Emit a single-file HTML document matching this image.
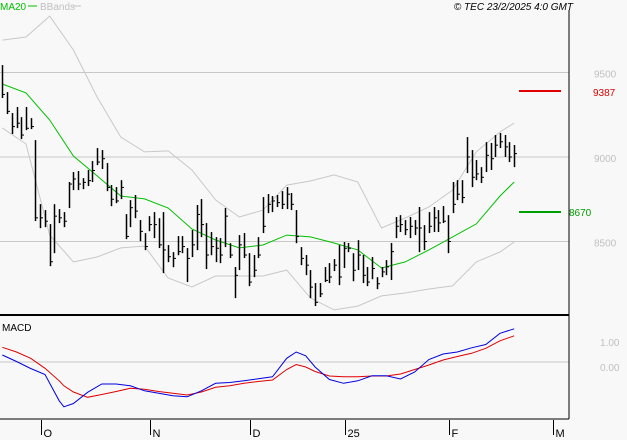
<!DOCTYPE html>
<html><head><meta charset="utf-8"><style>
html,body{margin:0;padding:0;background:#f8f8f8;}
svg{display:block;font-family:"Liberation Sans",sans-serif;}
</style></head><body>
<svg id="chart" width="627" height="440" viewBox="0 0 627 440" xmlns="http://www.w3.org/2000/svg">
<rect x="0" y="0" width="627" height="440" fill="#f8f8f8"/>
<g>
<text x="0" y="10" font-size="10" fill="#00c000">MA20</text>
<line x1="28" y1="6" x2="37" y2="6" stroke="#00c000"/>
<text x="40" y="10" font-size="10" fill="#c0c0c0">BBands</text>
<line x1="73" y1="6" x2="81" y2="6" stroke="#c0c0c0"/>
</g>
<text x="573" y="10" font-size="10" font-style="italic" text-anchor="end" fill="#000">© TEC 23/2/2025 4:0 GMT</text>
<g id="grid"></g>
<g id="bands"></g>
<g id="bars"></g>
<g id="macd"></g>
<line x1="569" y1="10" x2="569" y2="419" stroke="#000"/>
<line x1="0" y1="315" x2="569" y2="315" stroke="#000" stroke-width="2"/>
<line x1="0" y1="419" x2="569" y2="419" stroke="#000"/>
<text x="2" y="331" font-size="10" fill="#000">MACD</text>
<line x1="519" y1="91" x2="561" y2="91" stroke="#e00000" stroke-width="2"/>
<text x="593" y="96" font-size="10" fill="#e00000">9387</text>
<line x1="519" y1="212" x2="561" y2="212" stroke="#00a000" stroke-width="2"/>
<text x="569" y="216" font-size="10" fill="#00a000">8670</text>
<g id="xaxis"></g>
</svg>
<script>
const highs=[9544,9384,9260,9296,9236,9296,9230,9100,8721,8686,8603,8721,8692,8674,8852,8911,8917,8875,8923,8976,9053,9041,8964,8834,8822,8863,8662,8745,8775,8627,8550,8650,8674,8638,8674,8479,8437,8532,8532,8461,8568,8716,8751,8609,8556,8526,8520,8698,8490,8349,8538,8550,8431,8420,8526,8763,8781,8769,8775,8798,8822,8787,8686,8467,8420,8331,8254,8254,8349,8372,8396,8479,8497,8491,8431,8508,8420,8349,8408,8289,8349,8390,8491,8645,8656,8627,8645,8627,8704,8597,8674,8704,8686,8710,8656,8852,8863,8863,9118,9041,8982,8940,9088,9083,9130,9142,9130,9088,9071];
const lows=[9349,9254,9136,9171,9106,9159,9165,8621,8579,8585,8354,8431,8609,8585,8698,8804,8804,8810,8828,8852,8952,8929,8798,8709,8727,8751,8514,8585,8638,8502,8449,8561,8520,8461,8313,8378,8348,8419,8431,8260,8408,8449,8526,8337,8419,8378,8372,8467,8402,8165,8331,8402,8236,8289,8402,8550,8668,8674,8704,8692,8692,8686,8490,8360,8301,8165,8118,8171,8260,8254,8325,8242,8343,8437,8265,8331,8254,8236,8277,8218,8289,8301,8272,8520,8556,8538,8520,8538,8437,8449,8550,8556,8556,8609,8431,8668,8745,8727,8905,8822,8863,8846,8911,8923,9000,9053,9000,8970,8940];
const closes=[9370,9270,9180,9200,9130,9170,9180,8640,8640,8620,8380,8650,8640,8620,8840,8870,8840,8850,8860,8920,8970,8990,8820,8750,8740,8820,8530,8700,8680,8560,8470,8600,8600,8480,8450,8410,8400,8440,8470,8400,8480,8660,8600,8420,8470,8460,8420,8650,8420,8300,8480,8420,8260,8330,8420,8590,8720,8740,8730,8720,8780,8720,8530,8400,8360,8230,8140,8190,8270,8290,8360,8290,8460,8460,8330,8420,8300,8260,8340,8250,8320,8350,8440,8590,8600,8570,8590,8580,8580,8500,8590,8640,8610,8620,8500,8720,8780,8760,9000,8880,8900,8880,9010,8990,9070,9090,9060,9000,9020];
const sampleIdx=[0,5,10,15,20,25,30,35,40,45,50,55,60,65,70,75,80,85,90,95,100,105,108];
const ma20=[9432,9379,9219,9006,8888,8769,8752,8698,8574,8509,8462,8479,8538,8527,8491,8450,8343,8379,8450,8527,8604,8769,8852];
const bbUpper=[9692,9710,9834,9633,9355,9118,9030,9036,8923,8746,8645,8686,8834,8858,8894,8852,8580,8639,8704,8805,9030,9148,9201];
const bbLower=[9172,9077,8538,8379,8408,8462,8473,8284,8231,8296,8296,8296,8331,8166,8095,8118,8178,8195,8219,8237,8379,8438,8497];
const macdIdx=[0,3,6,9,12,13,15,18,21,24,27,30,33,36,39,42,45,48,51,54,57,60,62,64,66,69,72,75,78,81,84,87,90,93,96,99,102,105,108];
const macdLine=[0.28,0.02,-0.26,-0.50,-1.55,-1.79,-1.66,-1.21,-0.88,-0.88,-0.95,-1.15,-1.25,-1.35,-1.39,-1.15,-0.85,-0.82,-0.75,-0.67,-0.59,0.15,0.40,0.25,-0.20,-0.70,-0.85,-0.75,-0.55,-0.55,-0.68,-0.40,0.10,0.32,0.40,0.57,0.70,1.15,1.33];
const signalLine=[0.59,0.40,0.15,-0.25,-0.75,-0.95,-1.20,-1.41,-1.30,-1.18,-1.05,-1.09,-1.18,-1.25,-1.32,-1.20,-1.01,-0.95,-0.85,-0.78,-0.72,-0.30,-0.10,-0.20,-0.38,-0.56,-0.59,-0.59,-0.56,-0.56,-0.48,-0.30,-0.12,0.08,0.22,0.35,0.55,0.85,1.05];
const priceTicks=[9500,9000,8500];
const priceTickLabels=["9500","9000","8500"];
const macdTicks=[1,0];
const macdTickLabels=["1.00","0.00"];
const monthLabels=["O","N","D","25","F","M"];
const monthBarIdx=[8.2,31.2,52.3,72.3,94.3,116.2];

const NS="http://www.w3.org/2000/svg";
function xS(i){return 2.3+i*4.74;}
function yP(v){return 157-(v-9000)*0.169;}
function yM(v){return 362-v*25;}
function mk(tag,attrs,parent){const e=document.createElementNS(NS,tag);for(const k in attrs)e.setAttribute(k,attrs[k]);parent.appendChild(e);return e;}

const grid=document.getElementById('grid');
priceTicks.forEach((v,k)=>{
  const l=mk('line',{x1:0,x2:569,y1:yP(v),y2:yP(v),stroke:'#c8c8c8'},grid);
  
  
  const t=mk('text',{x:594,y:yP(v)+5,'font-size':10,fill:'#c0c0c0'},grid);
  t.textContent=priceTickLabels[k];
  
  
});
macdTicks.forEach((v,k)=>{
  if(v===0){
    const l=mk('line',{x1:0,x2:569,y1:yM(v),y2:yM(v),stroke:'#c8c8c8'},grid);
    
    
  }
  const t=mk('text',{x:600,y:yM(v)+9,'font-size':10,fill:'#c0c0c0'},grid);
  t.textContent=macdTickLabels[k];
  
  
});

function path(idx,arr,yf,stroke,parent,name){
  const d=arr.map((v,k)=>(k?'L':'M')+xS(idx[k]).toFixed(1)+','+yf(v).toFixed(1)).join('');
  const p=mk('path',{d:d,fill:'none',stroke:stroke,'stroke-width':1},parent);
  
  
}
const bands=document.getElementById('bands');
path(sampleIdx,bbUpper,yP,'#c8c8c8',bands,'bb-upper');
path(sampleIdx,bbLower,yP,'#c8c8c8',bands,'bb-lower');
path(sampleIdx,ma20,yP,'#00c000',bands,'ma20-line');

const bars=document.getElementById('bars');
highs.forEach((h,i)=>{
  const x=Math.round(xS(i))+0.5;
  const b=mk('line',{x1:x,x2:x,y1:yP(h),y2:yP(lows[i]),stroke:'#000','stroke-width':1.5},bars);
  
  
  const c=mk('line',{x1:x,x2:x+2.5,y1:yP(closes[i]),y2:yP(closes[i]),stroke:'#000'},bars);
  
  
});

const macd=document.getElementById('macd');
path(macdIdx,signalLine,yM,'#e00000',macd,'macd-signal-line');
path(macdIdx,macdLine,yM,'#0000e0',macd,'macd-line');

const xa=document.getElementById('xaxis');
monthLabels.forEach((m,k)=>{
  const x=Math.round(xS(monthBarIdx[k]))+0.5;
  const l=mk('line',{x1:x,x2:x,y1:420,y2:435,stroke:'#000'},xa);
  
  
  const t=mk('text',{x:x+2,y:437,'font-size':11,fill:'#000'},xa);
  t.textContent=m;
  
  
});
</script>
</body></html>
